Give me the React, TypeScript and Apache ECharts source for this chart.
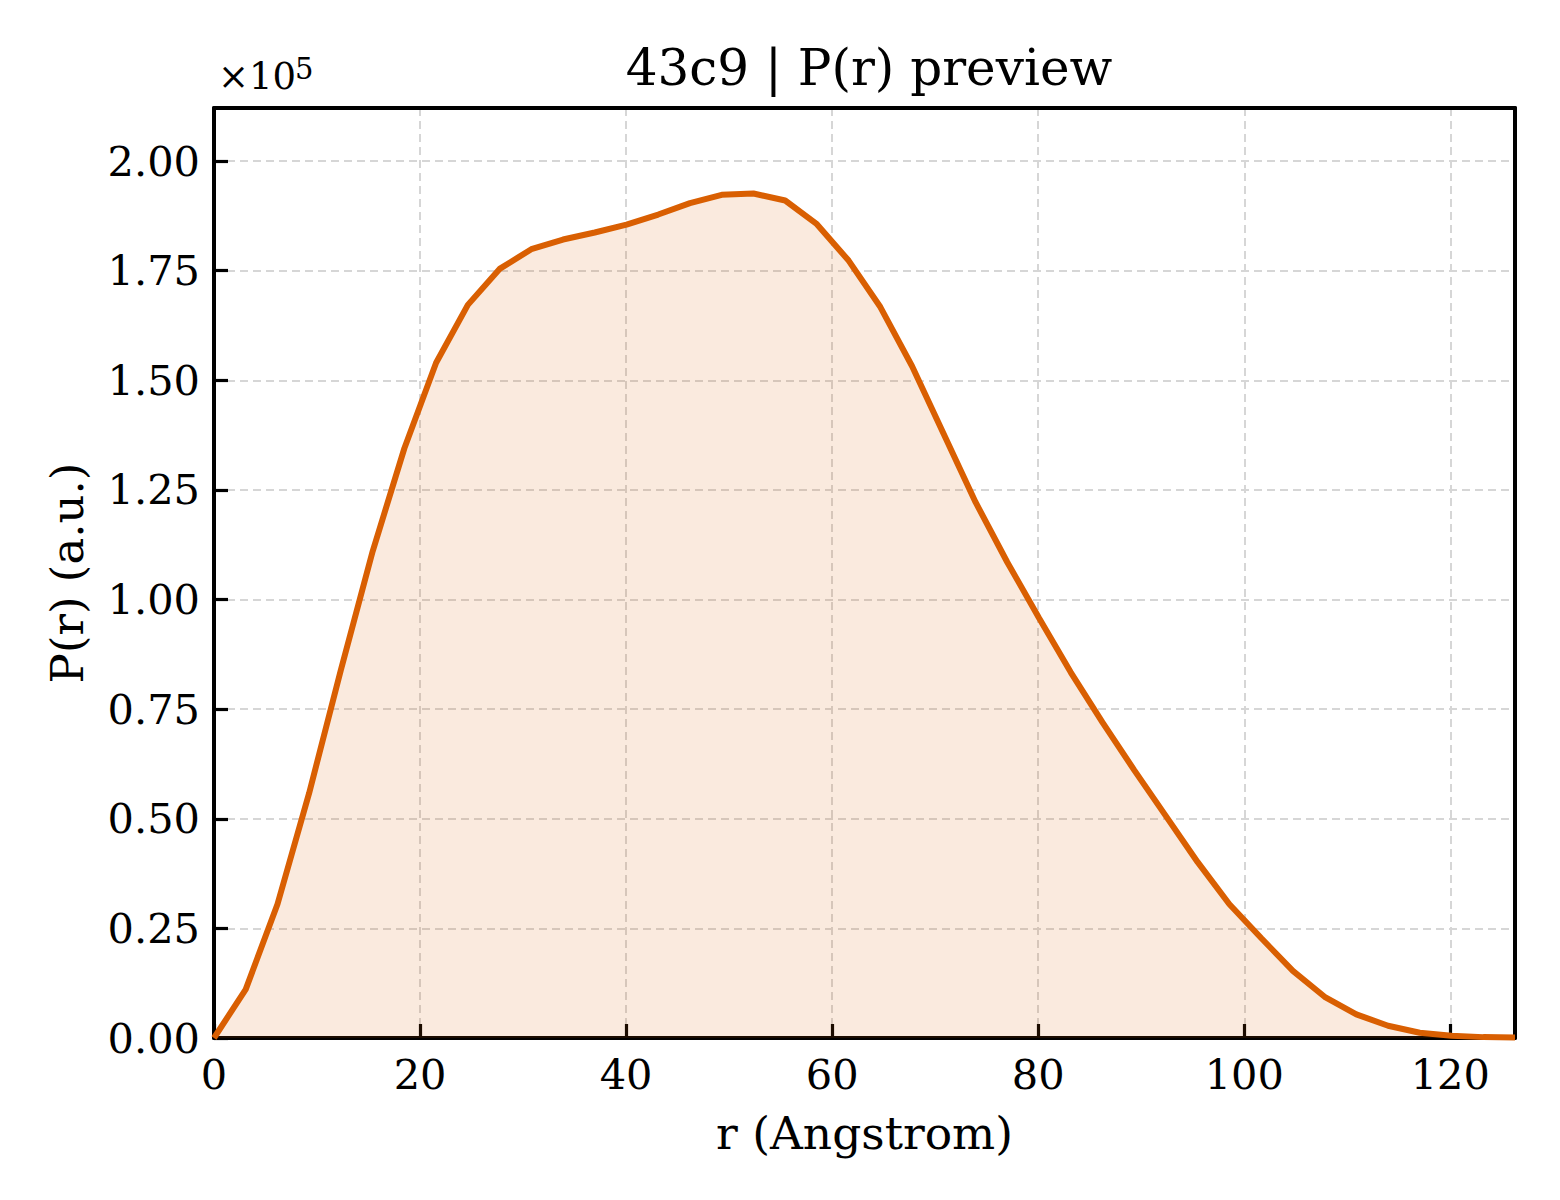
import React, { useEffect, useRef } from 'react';
import * as echarts from 'echarts';

// r grid (Angstrom)
const rValues = [
  0, 3.08, 6.16, 9.24, 12.32, 15.4, 18.48, 21.56, 24.64, 27.72, 30.8, 33.88, 36.96, 40.04,
  43.12, 46.2, 49.28, 52.36, 55.44, 58.52, 61.6, 64.68, 67.76, 70.84, 73.92, 77.0, 80.08,
  83.16, 86.24, 89.32, 92.4, 95.48, 98.56, 101.64, 104.72, 107.8, 110.88, 113.96, 117.04,
  120.12, 123.2, 126.28,
];

// P(r) values (a.u.)
const prValues = [
  0, 11100, 30500, 55900, 84000, 111000, 134500, 154000, 167200, 175400, 179900, 182100,
  183700, 185500, 187800, 190400, 192300, 192600, 191000, 185600, 177300, 166700, 153200,
  137700, 122200, 108500, 95800, 83400, 72000, 61100, 50600, 40100, 30500, 22800, 15300,
  9400, 5400, 2800, 1200, 500, 200, 100,
];

const xTicks = [0, 20, 40, 60, 80, 100, 120];

const xMax = 126.28;
const yMax = 212100;

const FONT = "'DejaVu Serif', serif";
const LINE = '#d95f02';

const frameAxis = {
  show: true,
  axisLine: { show: true, onZero: false, lineStyle: { color: '#000', width: 4 } },
  axisTick: { show: false },
  axisLabel: { show: false },
  splitLine: { show: false },
};

const App: React.FC = () => {
  const chartRef = useRef<HTMLDivElement>(null);

  useEffect(() => {
    document.body.style.margin = '0';
    if (!chartRef.current) return;
    const chart = echarts.init(chartRef.current, null, { renderer: 'svg' });

    const option = {
      animation: false,
      backgroundColor: '#ffffff',
      title: {
        text: '43c9 | P(r) preview',
        left: 864,
        top: 38,
        textAlign: 'center',
        textStyle: { fontFamily: FONT, fontSize: 50, fontWeight: 'normal', color: '#000' },
      },
      grid: {
        left: 214,
        right: 45,
        top: 108,
        bottom: 162,
      },
      graphic: [
        {
          type: 'text',
          left: 218,
          top: 58,
          style: { text: '×10', font: `37px ${FONT}`, fill: '#000' },
        },
        {
          type: 'text',
          left: 295,
          top: 54,
          style: { text: '5', font: `29px ${FONT}`, fill: '#000' },
        },
      ],
      xAxis: [
        {
          type: 'value',
          min: 0,
          max: xMax,
          interval: 20,
          name: 'r (Angstrom)',
          nameLocation: 'middle',
          nameGap: 72,
          nameTextStyle: { fontFamily: FONT, fontSize: 45.5, color: '#000' },
          axisLine: { show: true, onZero: false, lineStyle: { color: '#000', width: 4 } },
          axisTick: { show: true, inside: true, length: 14, lineStyle: { color: '#000', width: 3.2 } },
          axisLabel: {
            fontFamily: FONT,
            fontSize: 41.5,
            color: '#000',
            margin: 15,
            showMaxLabel: false,
            formatter: (v: number) => (xTicks.includes(v) ? String(v) : ''),
          },
          splitLine: { show: true, lineStyle: { color: '#d6d6d6', width: 2, type: [8, 5] } },
        },
        { ...frameAxis, type: 'value', position: 'top', min: 0, max: xMax },
      ],
      yAxis: [
        {
          type: 'value',
          min: 0,
          max: yMax,
          interval: 25000,
          name: 'P(r) (a.u.)',
          nameLocation: 'middle',
          nameRotate: 90,
          nameGap: 124,
          nameTextStyle: { fontFamily: FONT, fontSize: 45, color: '#000' },
          axisLine: { show: true, lineStyle: { color: '#000', width: 4 } },
          axisTick: { show: true, inside: true, length: 14, lineStyle: { color: '#000', width: 3.2 } },
          axisLabel: {
            fontFamily: FONT,
            fontSize: 41.5,
            color: '#000',
            margin: 14,
            showMaxLabel: false,
            formatter: (v: number) => (v / 100000).toFixed(2),
          },
          splitLine: { show: true, lineStyle: { color: '#d6d6d6', width: 2, type: [8, 5] } },
        },
        { ...frameAxis, type: 'value', position: 'right', min: 0, max: yMax },
      ],
      series: [
        {
          type: 'line',
          data: rValues.map((r, i) => [r, prValues[i]]),
          showSymbol: false,
          symbol: 'none',
          lineStyle: { color: LINE, width: 6 },
          areaStyle: { color: LINE, opacity: 0.13 },
          clip: true,
        },
      ],
    };

    chart.setOption(option);
    return () => {
      chart.dispose();
    };
  }, []);

  return <div ref={chartRef} style={{ width: 1560, height: 1200 }} />;
};

export default App;
